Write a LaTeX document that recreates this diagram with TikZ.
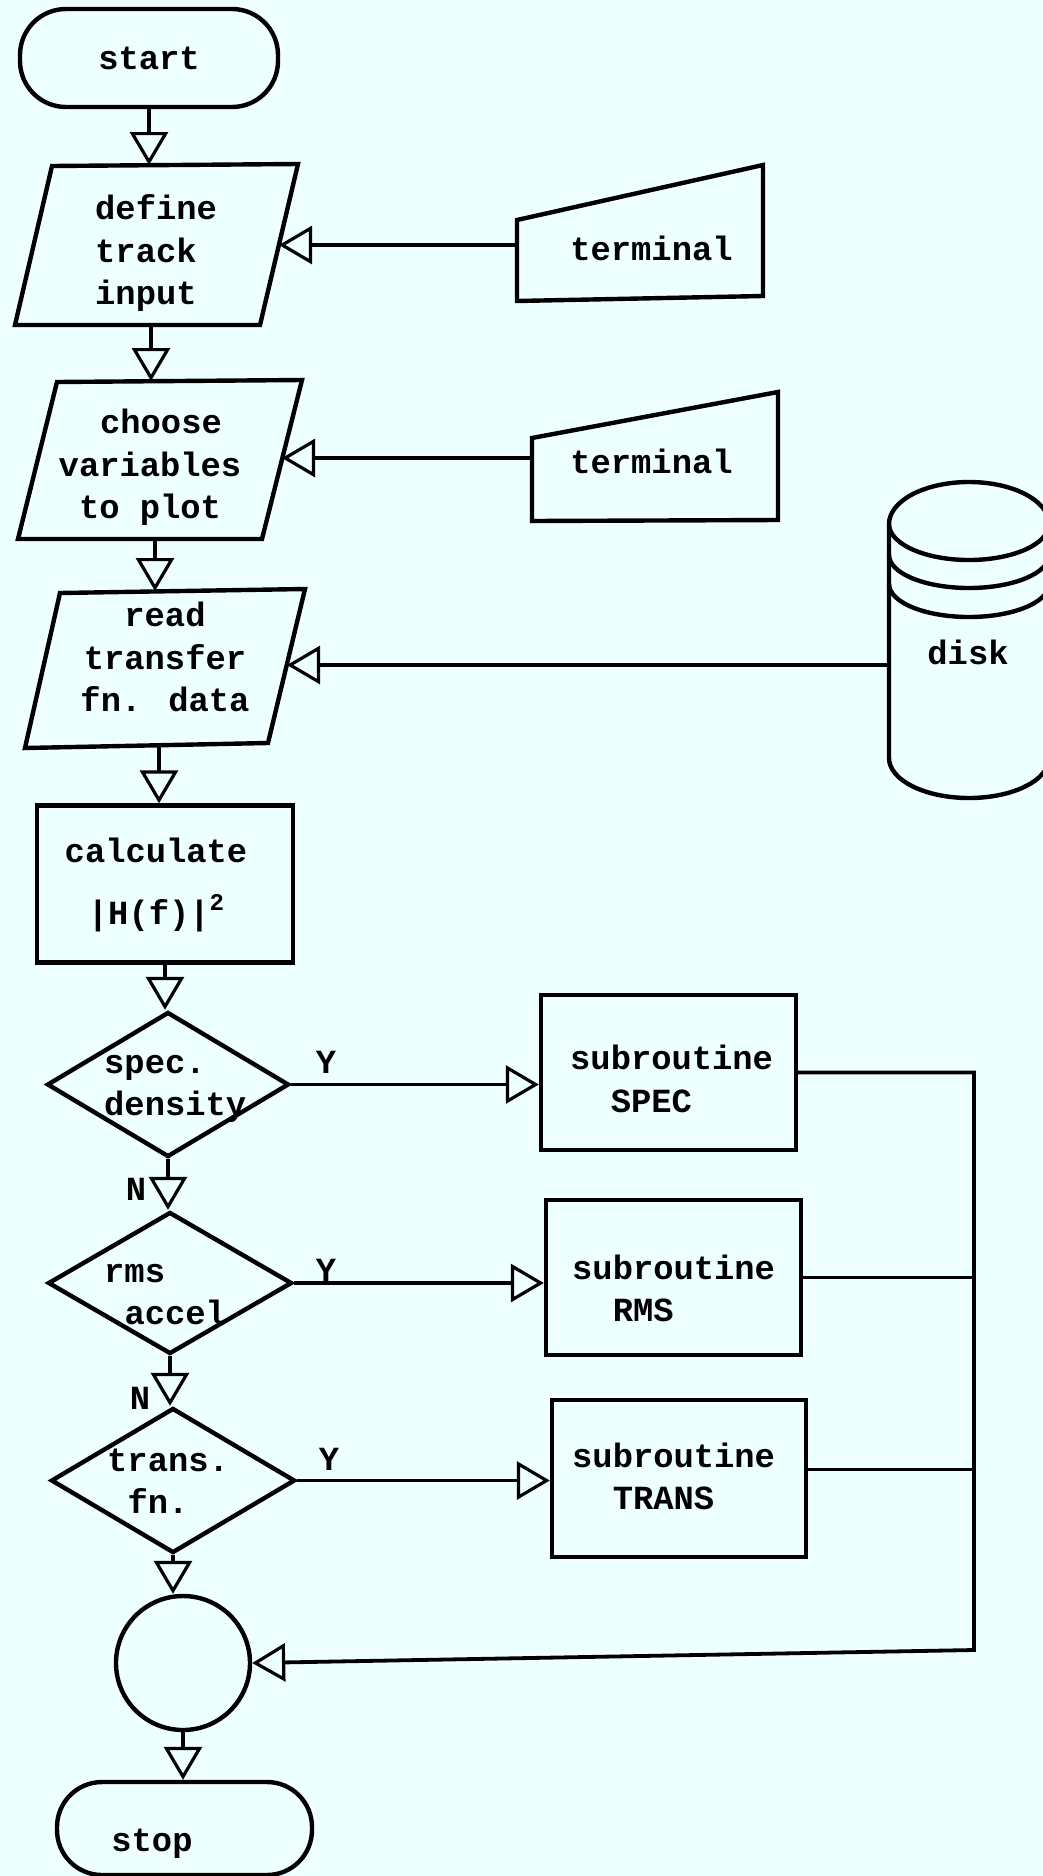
\documentclass[tikz,border=0pt]{standalone}
\usepackage{fontspec}
\newfontfamily\tw{Liberation Mono}
\usetikzlibrary{arrows.meta,shapes.geometric}
\definecolor{paper}{RGB}{238,255,255}
\tikzset{
  outline/.style={draw=black,line width=4.4pt},
  flow/.style={draw=black,line width=3.8pt,-{Triangle[open,length=33pt,width=38pt,line width=3.2pt]}},
  link/.style={draw=black,line width=3.8pt},
  lbl/.style={font=\tw\bfseries\fontsize{33.8pt}{42.5pt}\selectfont,inner sep=0pt},
  boxnode/.style={outline,rectangle,inner sep=0pt},
  decision/.style={outline,diamond,inner sep=0pt},
}
\begin{document}
\begin{tikzpicture}[x=1pt,y=-1pt]
\useasboundingbox (0,0) rectangle (1042,1876);
\fill[paper] (0,0) rectangle (1042,1876);

% start
\node[outline,rounded corners=46pt,minimum width=258pt,minimum height=98pt,lbl] (start) at (149,58) {start};

% define track input
\draw[outline] (15,325) -- (52,166) -- (298,164) -- (260,325) -- cycle;
\node[lbl,align=left,anchor=west] (define) at (95,253.5) {\strut define\\track\\input\strut};
\coordinate (define-n) at (149,165);
\coordinate (define-s) at (151,325);
\coordinate (define-e) at (279,245);

% terminal 1
\draw[outline] (517,220) -- (763,165) -- (763,296) -- (517,301) -- cycle;
\node[lbl] (term1) at (651.5,252) {\strut terminal\strut};
\coordinate (term1-w) at (517,245);

% choose variables
\draw[outline] (18,539) -- (57,382) -- (302,380) -- (262,539) -- cycle;
\node[lbl,align=center] (choose) at (150,467.5) {\strut\hspace*{22pt}choose\\variables\\to plot\strut};
\coordinate (choose-n) at (151,381);
\coordinate (choose-s) at (155,539);
\coordinate (choose-e) at (282,458);

% terminal 2
\draw[outline] (532,438) -- (778,392) -- (778,520) -- (532,521) -- cycle;
\node[lbl] (term2) at (651.5,465) {\strut terminal\strut};
\coordinate (term2-w) at (532,458);

% read transfer fn data
\draw[outline] (25,748) -- (60,593) -- (305,589) -- (268,743) -- cycle;
\node[lbl,align=center] (read) at (165,660.5) {\strut read\\transfer\\fn. data\strut};
\coordinate (read-n) at (155,591);
\coordinate (read-s) at (159,745);
\coordinate (read-e) at (287,665);

% disk
\draw[outline] (889,758) -- (889,524) arc[start angle=180,end angle=360,x radius=80,y radius=42] -- (1049,758) arc[start angle=0,end angle=180,x radius=80,y radius=40] -- cycle;
\draw[outline] (889,524) arc[start angle=180,end angle=0,x radius=80,y radius=36];
\draw[outline] (889,555) arc[start angle=180,end angle=0,x radius=80,y radius=33];
\draw[outline] (889,584) arc[start angle=180,end angle=0,x radius=80,y radius=33];
\node[lbl] (disk) at (968,656) {\strut disk\strut};
\coordinate (disk-w) at (889,665);

% calculate
\node[boxnode,minimum width=256pt,minimum height=157pt] (calc) at (165,884) {};
\node[lbl,align=center] (calctext) at (156,885) {\strut calculate\\[18.5pt]|H(f)|\raisebox{14pt}{\fontsize{24pt}{24pt}\selectfont 2}\strut};

% spec density
\node[decision,minimum width=242pt,minimum height=145pt] (spec) at (168,1084.5) {};
\node[lbl,align=left,anchor=west] (spectext) at (104,1086) {\strut spec.\\density\strut};
\node[lbl] (y1) at (326,1062) {Y};
\node[boxnode,minimum width=255pt,minimum height=155pt] (specsub) at (668.5,1072.5) {};
\node[lbl,align=left,anchor=west] (specsubtext) at (570,1082.5) {\strut subroutine\\\hspace*{40.6pt}SPEC\strut};
\node[lbl] (n1) at (136,1189) {N};

% rms accel
\node[decision,minimum width=244pt,minimum height=142pt] (rms) at (170,1283) {};
\node[lbl,align=left,anchor=west] (rmstext) at (104,1295) {\strut rms\\\hspace*{20.3pt}accel\strut};
\node[lbl] (y2) at (326,1270) {Y};
\node[boxnode,minimum width=255pt,minimum height=155pt] (rmssub) at (673.5,1277.5) {};
\node[lbl,align=left,anchor=west] (rmssubtext) at (572,1292) {\strut subroutine\\\hspace*{40.6pt}RMS\strut};
\node[lbl] (n2) at (140,1398) {N};

% trans fn
\node[decision,minimum width=244pt,minimum height=145pt] (trans) at (173,1480.5) {};
\node[lbl,align=left,anchor=west] (transtext) at (107,1484) {\strut trans.\\\hspace*{20.3pt}fn.\strut};
\node[lbl] (y3) at (329,1459) {Y};
\node[boxnode,minimum width=254pt,minimum height=157pt] (transsub) at (679,1478.5) {};
\node[lbl,align=left,anchor=west] (transsubtext) at (572,1480) {\strut subroutine\\\hspace*{40.6pt}TRANS\strut};

% join circle and stop
\node[outline,circle,minimum size=134pt,inner sep=0pt] (join) at (183,1663) {};
\node[outline,rounded corners=45pt,minimum width=255pt,minimum height=93pt,inner sep=0pt] (stop) at (184.5,1828.5) {};
\node[lbl] (stoptext) at (152,1843) {\strut stop\strut};

\coordinate (bus) at (974,1650);

% connectors
\draw[flow] (start.south) -- (define-n);
\draw[flow] (term1-w) -- (define-e);
\draw[flow] (define-s) -- (choose-n);
\draw[flow] (term2-w) -- (choose-e);
\draw[flow] (choose-s) -- (read-n);
\draw[flow] (disk-w) -- (read-e);
\draw[flow] (read-s) -- (read-s |- calc.north);
\draw[flow] (calc.south) -- (calc.south |- spec.north);
\draw[flow] (spec.east) -- (spec.east -| specsub.west);
\draw[flow] (spec.south) -- (spec.south |- rms.north);
\draw[flow] (rms.east) -- (rms.east -| rmssub.west);
\draw[flow] (rms.south) -- (rms.south |- trans.north);
\draw[flow] (trans.east) -- (trans.east -| transsub.west);
\draw[flow] (trans.south) -- (trans.south |- join.north);
\draw[flow] (join.south) -- (join.south |- stop.north);
\draw[flow] (specsub.east) -- (specsub.east -| bus) -- (bus) -- (join.east);
\draw[link] (rmssub.east) -- (rmssub.east -| bus);
\draw[link] ([yshift=9pt]transsub.east) -- ([yshift=9pt]transsub.east -| bus);
\end{tikzpicture}
\end{document}
